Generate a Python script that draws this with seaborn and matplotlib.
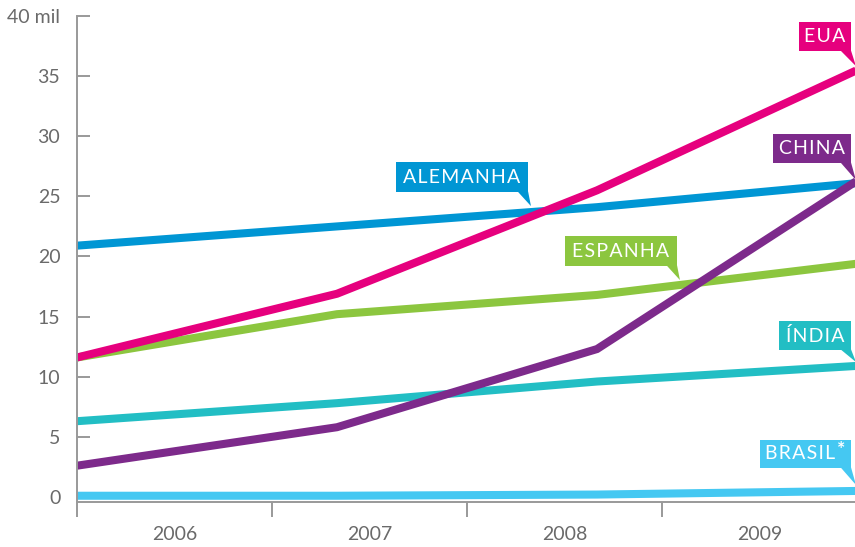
import pandas as pd
import matplotlib.pyplot as plt
from matplotlib.patches import Rectangle, Polygon
import seaborn as sns

# Data (mil)
anos = ['2006', '2007', '2008', '2009']
paises = ['BRASIL', 'ÍNDIA', 'ESPANHA', 'ALEMANHA', 'CHINA', 'EUA']
brasil = [0.1, 0.1, 0.2, 0.5]
india = [6.3, 7.8, 9.6, 10.9]
espanha = [11.6, 15.2, 16.8, 19.4]
alemanha = [20.9, 22.5, 24.1, 26.1]
china = [2.6, 5.8, 12.3, 26.3]
eua = [11.6, 16.9, 25.5, 35.5]
yticklabels = ['0', '5', '10', '15', '20', '25', '30', '35', '40 mil']

colors = {
    'BRASIL': '#45c8f2',
    'ÍNDIA': '#22bec4',
    'ESPANHA': '#8cc63f',
    'ALEMANHA': '#0096d4',
    'CHINA': '#7d2a8b',
    'EUA': '#e6007e',
}

series = [brasil, india, espanha, alemanha, china, eua]
rows = []
for p, vals in zip(paises, series):
    for i, v in enumerate(vals):
        rows.append({'pos': i, 'pais': p, 'valor': v})
df = pd.DataFrame(rows)

sns.set_style('white')
plt.rcParams['font.family'] = ['Lato', 'DejaVu Sans']

fig = plt.figure(figsize=(8.55, 5.47), dpi=100)
ax = fig.add_axes([77/855, 45/547, 780/855, 486/547])

sns.lineplot(data=df, x='pos', y='valor', hue='pais', hue_order=paises,
             palette=colors, linewidth=5.8, legend=False, ax=ax,
             solid_capstyle='butt', solid_joinstyle='miter')

ax.set_xlim(0, 3)
ax.set_ylim(-0.42, 40)
ax.set_xlabel('')
ax.set_ylabel('')

grey = '#999999'
txt = '#6a6a6a'
for s in ['top', 'right']:
    ax.spines[s].set_visible(False)
for s in ['left', 'bottom']:
    ax.spines[s].set_color(grey)
    ax.spines[s].set_linewidth(1.4)

ax.set_yticks(range(0, 41, 5))
ax.set_yticklabels(yticklabels)
ax.tick_params(axis='y', direction='in', length=9, width=1.4, color=grey,
               labelcolor=txt, labelsize=14, pad=12, left=True)

ax.set_xticks([0, 0.75, 1.5, 2.25, 3])
ax.set_xticklabels([])
ax.set_xticks([0.375, 1.125, 1.875, 2.625], minor=True)
ax.set_xticklabels(anos, minor=True)
ax.tick_params(axis='x', which='major', direction='out', length=11, width=1.4,
               color=grey, bottom=True)
ax.tick_params(axis='x', which='minor', length=0, labelcolor=txt,
               labelsize=14, pad=17)


def spaced(s):
    return '\u200a'.join(s)


# callout labels: (x0, x1, y0, y1, tip)
callouts = {
    'EUA': (2.777, 2.977, 37.07, 39.48, (2.996, 35.83)),
    'CHINA': (2.677, 2.977, 27.76, 30.17, (2.996, 26.35)),
    'ALEMANHA': (1.227, 1.735, 25.35, 27.85, (1.746, 24.19)),
    'ESPANHA': (1.877, 2.308, 19.20, 21.70, (2.319, 18.04)),
    'ÍNDIA': (2.700, 2.977, 12.22, 14.63, (2.996, 11.22)),
    'BRASIL': (2.627, 2.977, 2.41, 4.74, (2.996, 1.0)),
}
for p, (x0, x1, y0, y1, tip) in callouts.items():
    c = colors[p]
    ax.add_patch(Rectangle((x0, y0), x1 - x0, y1 - y0, facecolor=c,
                           edgecolor='none', zorder=5, clip_on=False))
    ax.add_patch(Polygon([(x1 - 0.04, y0 + 0.05), (x1, y0 + 0.05), tip],
                         closed=True, facecolor=c, edgecolor='none',
                         zorder=5, clip_on=False))
    if p == 'BRASIL':
        ax.text(2.782, (y0 + y1) / 2, spaced('BRASIL'), color='white',
                fontsize=14, ha='center', va='center', zorder=6)
        ax.text(2.94, y1 - 0.1, '*', color='white', fontsize=14,
                fontweight='bold', ha='center', va='top', zorder=6)
    else:
        ax.text((x0 + x1) / 2, (y0 + y1) / 2, spaced(p), color='white',
                fontsize=14, ha='center', va='center', zorder=6)

fig.savefig('out.png', dpi=100)
